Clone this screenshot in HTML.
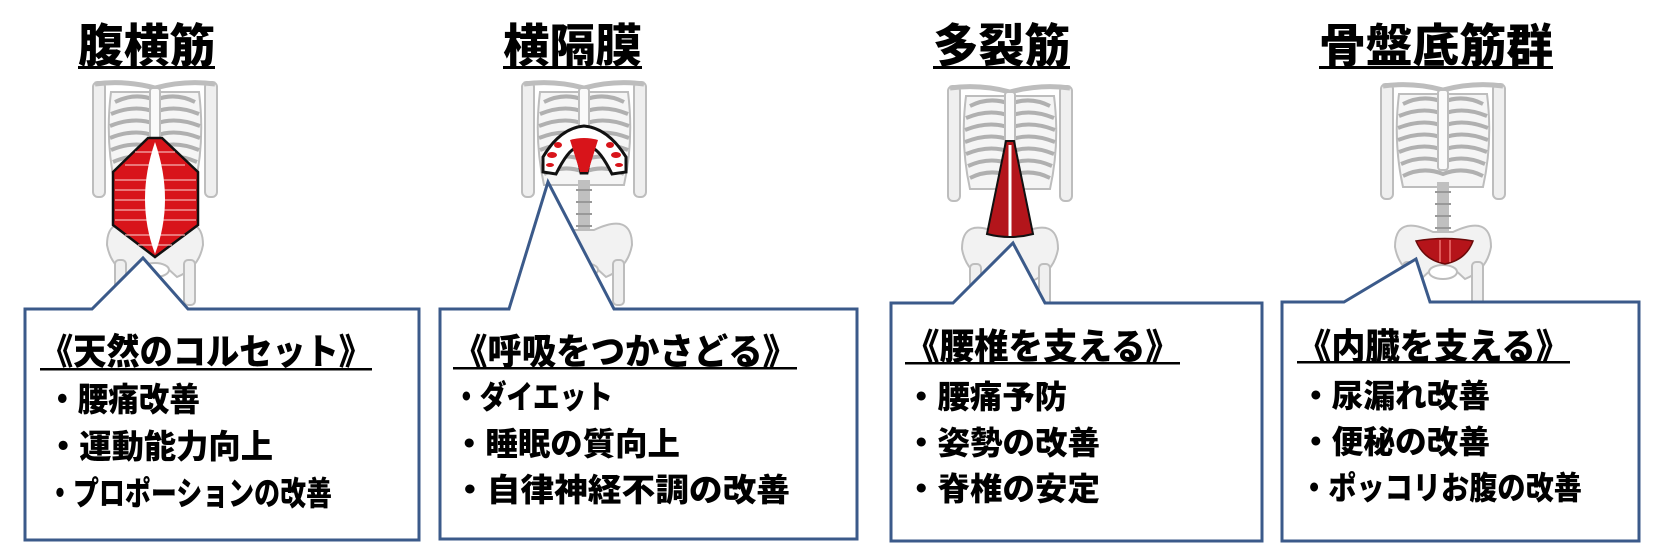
<!DOCTYPE html>
<html><head><meta charset="utf-8">
<style>
html,body{margin:0;padding:0;background:#fff;}
svg{display:block;}
text{font-family:"Liberation Sans","Noto Sans CJK JP",sans-serif;font-weight:900;fill:#000;}
</style></head>
<body>
<svg width="1667" height="552" viewBox="0 0 1667 552" xmlns="http://www.w3.org/2000/svg">
<defs>
<g id="sk" fill="#efefef" stroke="#bdbdbd" stroke-width="2">
  <rect x="-62" y="2" width="12" height="115" rx="5"/>
  <rect x="50" y="2" width="12" height="115" rx="5"/>
  <path d="M-60,4 Q-30,0 0,8 Q30,0 60,4" fill="none" stroke-width="5"/>
  <path d="M-44,12 Q-50,60 -40,105 L40,105 Q50,60 44,12 Z" fill="#f5f5f5"/>
  <path d="M-40,22 Q-20,12 0,20 Q20,12 40,22 M-44,34 Q-20,24 0,32 Q20,24 44,34 M-45,46 Q-20,36 0,44 Q20,36 45,46 M-45,58 Q-20,48 0,56 Q20,48 45,58 M-44,70 Q-20,60 0,68 Q20,60 44,70 M-42,82 Q-20,72 0,80 Q20,72 42,82 M-40,94 Q-20,84 0,92 Q20,84 40,94" fill="none" stroke="#b0b0b0" stroke-width="4"/>
  <rect x="-5" y="8" width="10" height="80" rx="3" fill="#fafafa"/>
  <path d="M0,100 L0,160" stroke="#c0c0c0" stroke-width="12"/>
  <path d="M-8,110 H8 M-8,122 H8 M-8,134 H8 M-8,146 H8" stroke="#999" stroke-width="2"/>
  <path d="M-10,150 Q-48,132 -48,165 Q-44,188 -22,197 L-10,186 L10,186 L22,197 Q44,188 48,165 Q48,132 10,150 Z" fill="#f2f2f2"/>
  <ellipse cx="0" cy="190" rx="14" ry="7" fill="#fff"/>
  <rect x="-40" y="180" width="11" height="45" rx="4"/>
  <rect x="29" y="180" width="11" height="45" rx="4"/>
</g>
</defs>

<use href="#sk" transform="translate(155,80)"/>
<use href="#sk" transform="translate(584,80)"/>
<use href="#sk" transform="translate(1010,84)"/>
<use href="#sk" transform="translate(1443,82)"/>

<path d="M148,138 L162,138 L198,172 L198,225 L155,257 L113,225 L113,172 Z" fill="#d8141a" stroke="#111" stroke-width="2.5"/>
<g stroke="#f4b0b0" stroke-width="1.2">
<path d="M115,180 H196 M115,190 H196 M115,200 H196 M115,210 H196 M115,220 H196 M125,165 H185 M135,152 H175 M125,235 H185 M138,245 H172"/>
</g>
<path d="M155,142 Q135,200 155,254 Q175,200 155,142 Z" fill="#fff"/>

<path d="M543,157 Q560,128 584,126 Q608,128 626,157 L626,172 L612,174 Q600,150 592,148 L587,173 L581,173 L576,148 Q568,150 556,174 L543,172 Z" fill="#fff" stroke="#111" stroke-width="3"/>
<path d="M570,140 Q584,136 598,140 L588,172 L580,172 Z" fill="#d8141a"/>
<g fill="#d8141a"><ellipse cx="552" cy="155" rx="5" ry="3"/><ellipse cx="558" cy="145" rx="4" ry="3"/><ellipse cx="616" cy="155" rx="5" ry="3"/><ellipse cx="610" cy="145" rx="4" ry="3"/><ellipse cx="550" cy="165" rx="4" ry="2"/><ellipse cx="619" cy="165" rx="4" ry="2"/></g>

<path d="M1006,141 L1014,141 L1033,234 Q1010,240 987,234 Z" fill="#b3151b" stroke="#111" stroke-width="2"/>
<path d="M1010,145 L1010,236" stroke="#fff" stroke-width="3"/>

<path d="M1416,241 Q1445,236 1473,241 Q1466,260 1445,264 Q1424,260 1416,241 Z" fill="#b5141a" stroke="#6a0a0a" stroke-width="1.5"/>
<path d="M1440,240 L1440,262 M1450,240 L1450,262" stroke="#e05a5a" stroke-width="2"/>

<text x="78" y="62" font-size="46" textLength="137" lengthAdjust="spacingAndGlyphs">腹横筋</text>
<rect x="78" y="66" width="137" height="3"/>
<text x="503" y="62" font-size="46" textLength="139" lengthAdjust="spacingAndGlyphs">横隔膜</text>
<rect x="503" y="66" width="139" height="3"/>
<text x="933" y="62" font-size="46" textLength="137" lengthAdjust="spacingAndGlyphs">多裂筋</text>
<rect x="933" y="66" width="137" height="3"/>
<text x="1319" y="62" font-size="46" textLength="234" lengthAdjust="spacingAndGlyphs">骨盤底筋群</text>
<rect x="1319" y="66" width="234" height="3"/>

<g fill="#fff" stroke="#3b5a8a" stroke-width="3" stroke-linejoin="miter">
<path d="M25,309 L92,309 L143,258 L188,309 L419,309 L419,540 L25,540 Z"/>
<path d="M440,309 L509,309 L548,182 L614,309 L857,309 L857,539 L440,539 Z"/>
<path d="M891,303 L953,303 L1013,243 L1045,303 L1262,303 L1262,541 L891,541 Z"/>
<path d="M1282,302 L1344,302 L1416,259 L1430,302 L1639,302 L1639,541 L1282,541 Z"/>
</g>

<text x="40" y="364" font-size="36" textLength="332" lengthAdjust="spacingAndGlyphs">《天然のコルセット》</text>
<rect x="40" y="368" width="332" height="2.5"/>
<text x="47" y="411" font-size="33" textLength="153" lengthAdjust="spacingAndGlyphs">・腰痛改善</text>
<text x="47" y="458" font-size="33" textLength="226" lengthAdjust="spacingAndGlyphs">・運動能力向上</text>
<text x="47" y="505" font-size="33" textLength="285" lengthAdjust="spacingAndGlyphs">・プロポーションの改善</text>

<text x="453" y="364" font-size="36" textLength="344" lengthAdjust="spacingAndGlyphs">《呼吸をつかさどる》</text>
<rect x="453" y="367" width="344" height="2.5"/>
<text x="453" y="408" font-size="32" textLength="160" lengthAdjust="spacingAndGlyphs">・ダイエット</text>
<text x="453" y="455" font-size="32" textLength="227" lengthAdjust="spacingAndGlyphs">・睡眠の質向上</text>
<text x="453" y="501" font-size="32" textLength="337" lengthAdjust="spacingAndGlyphs">・自律神経不調の改善</text>

<text x="905" y="359" font-size="36" textLength="275" lengthAdjust="spacingAndGlyphs">《腰椎を支える》</text>
<rect x="905" y="362" width="275" height="2.5"/>
<text x="905" y="408" font-size="32" textLength="162" lengthAdjust="spacingAndGlyphs">・腰痛予防</text>
<text x="905" y="454" font-size="32" textLength="195" lengthAdjust="spacingAndGlyphs">・姿勢の改善</text>
<text x="905" y="500" font-size="32" textLength="195" lengthAdjust="spacingAndGlyphs">・脊椎の安定</text>

<text x="1297" y="359" font-size="36" textLength="273" lengthAdjust="spacingAndGlyphs">《内臓を支える》</text>
<rect x="1297" y="361" width="273" height="2.5"/>
<text x="1300" y="407" font-size="32" textLength="190" lengthAdjust="spacingAndGlyphs">・尿漏れ改善</text>
<text x="1300" y="453" font-size="32" textLength="190" lengthAdjust="spacingAndGlyphs">・便秘の改善</text>
<text x="1300" y="499" font-size="32" textLength="282" lengthAdjust="spacingAndGlyphs">・ポッコリお腹の改善</text>
</svg>
</body></html>
